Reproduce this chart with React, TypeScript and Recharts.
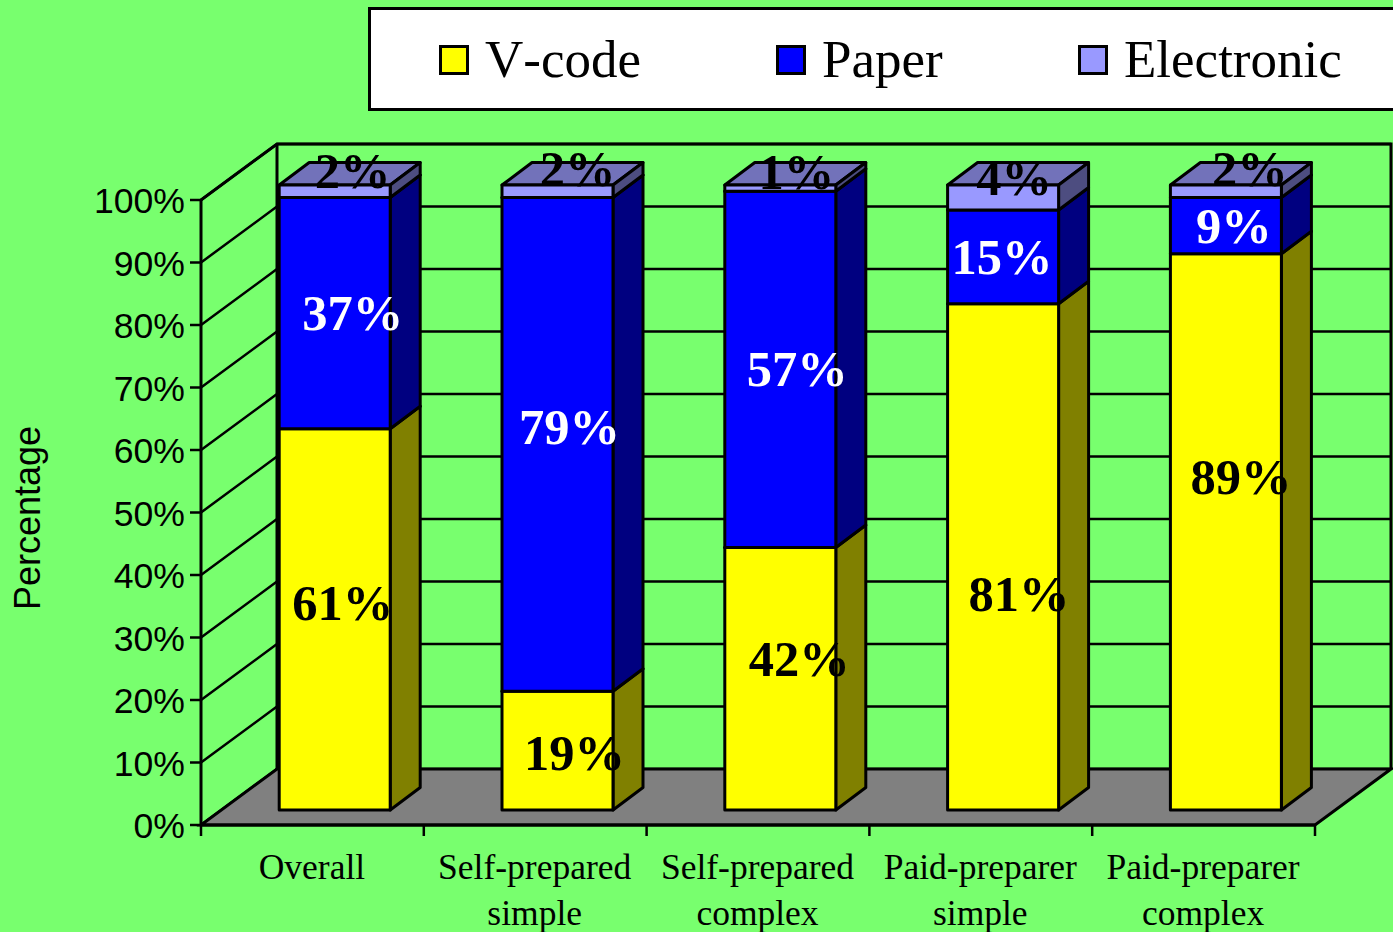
import {
  BarChart,
  Bar,
  XAxis,
  YAxis,
  CartesianGrid,
  Legend,
  LabelList,
  ReferenceArea,
} from "recharts";

const categories = [
  "Overall",
  "Self-prepared simple",
  "Self-prepared complex",
  "Paid-preparer simple",
  "Paid-preparer complex",
];
const vcode = [61, 19, 42, 81, 89];
const paper = [37, 79, 57, 15, 9];
const electronic = [2, 2, 1, 4, 2];
const yTicks = [0, 10, 20, 30, 40, 50, 60, 70, 80, 90, 100];

const chartData = categories.map((name, i) => ({
  name,
  vcode: vcode[i],
  paper: paper[i],
  electronic: electronic[i],
}));

// labels were hand placed in the original, so each one gets a nudge from its face centre
const vcodeNudge = [[8, -16], [17, 2], [19, -20], [16, 37], [15, -55]];
const paperNudge = [[18, 0], [12, -17], [17, 0], [-1, 0], [8, 0]];
const electronicNudge = [[18, -20], [20, -22], [16, -16], [11, -20], [24, -22]];

const WIDTH = 1393;
const HEIGHT = 932;
const BG = "#78ff6e";
const SERIF = "'Liberation Serif', serif";
const SANS = "'Liberation Sans', sans-serif";

// 3D offsets: wall depth, and how far the bar front sits in from the axis plane
const WALL_DX = 76;
const WALL_DY = -56;
const BAR_DX = 22.5;
const BAR_DY = -15;
const DEPTH_X = 30;
const DEPTH_Y = -22.5;

const Box3D = ({ x, y, width, height, fill, side, top }: any) => {
  const l = x + BAR_DX;
  const r = l + width;
  const t = y + BAR_DY;
  const b = t + height;
  const style = { stroke: "#000", strokeWidth: 3, strokeLinejoin: "round" as const };
  return (
    <g>
      <polygon
        points={`${l},${t} ${l + DEPTH_X},${t + DEPTH_Y} ${r + DEPTH_X},${t + DEPTH_Y} ${r},${t}`}
        fill={top}
        {...style}
      />
      <polygon
        points={`${r},${b} ${r + DEPTH_X},${b + DEPTH_Y} ${r + DEPTH_X},${t + DEPTH_Y} ${r},${t}`}
        fill={side}
        {...style}
      />
      <rect x={l} y={t} width={width} height={height} fill={fill} {...style} />
    </g>
  );
};

// the wall gridline: up the left wall, then across the back
const WallLine = ({ x1, y1, x2 }: any) => (
  <polyline
    points={`${x1},${y1} ${x1 + WALL_DX},${y1 + WALL_DY} ${x2 + WALL_DX},${y1 + WALL_DY}`}
    fill="none"
    stroke="#000"
    strokeWidth={2.5}
  />
);

const Walls = ({ x, y, width, height }: any) => {
  const b = y + height;
  const r = x + width;
  const step = width / categories.length;
  return (
    <g>
      <polygon
        points={`${x},${b} ${x + WALL_DX},${b + WALL_DY} ${r + WALL_DX},${b + WALL_DY} ${r},${b}`}
        fill="#808080"
        stroke="#000"
        strokeWidth={3}
      />
      <polyline
        points={`${x},${y} ${x + WALL_DX},${y + WALL_DY} ${r + WALL_DX},${y + WALL_DY} ${r + WALL_DX},${b + WALL_DY}`}
        fill="none"
        stroke="#000"
        strokeWidth={3}
      />
      <line
        x1={x + WALL_DX}
        y1={y + WALL_DY}
        x2={x + WALL_DX}
        y2={b + WALL_DY}
        stroke="#000"
        strokeWidth={3}
      />
      {/* ticks sit between the categories, not under them */}
      {[0, 1, 2, 3, 4, 5].map((i) => (
        <line
          key={i}
          x1={x + step * i}
          y1={b}
          x2={x + step * i}
          y2={b + 11}
          stroke="#000"
          strokeWidth={2.5}
        />
      ))}
    </g>
  );
};

const CategoryTick = ({ x, payload }: any) => {
  const lines = payload.value.split(" ");
  return (
    <text x={x} textAnchor="middle" fontFamily={SERIF} fontSize={35.5} fill="#000">
      {lines.map((line: string, i: number) => (
        <tspan key={line} x={x - 0.5} y={879 + i * 46}>
          {line}
        </tspan>
      ))}
    </text>
  );
};

const PercentTick = ({ x, y, payload }: any) => (
  <text
    x={x}
    y={y + 1}
    textAnchor="end"
    dominantBaseline="central"
    fontFamily={SANS}
    fontSize={35.6}
    fill="#000"
  >
    {payload.value}%
  </text>
);

const makeLabel =
  (nudge: number[][], color: string) =>
  ({ x, y, width, height, value, index }: any) => (
    <text
      x={x + BAR_DX + width / 2 + nudge[index][0]}
      y={y + BAR_DY + height / 2 + nudge[index][1]}
      textAnchor="middle"
      dominantBaseline="central"
      fontFamily={SERIF}
      fontWeight="bold"
      fontSize={50.5}
      fill={color}
    >
      {value}%
    </text>
  );

const legendLefts = [71, 408, 710];

const LegendBox = ({ payload }: any) => (
  <div
    style={{
      position: "relative",
      boxSizing: "border-box",
      width: 1040,
      height: 104,
      background: "#fff",
      border: "3px solid #000",
    }}
  >
    {(payload || []).map((item: any, i: number) => (
      <div key={item.value}>
        <div
          style={{
            position: "absolute",
            boxSizing: "border-box",
            left: legendLefts[i] - 3,
            top: 35,
            width: 30,
            height: 30,
            background: item.color,
            border: "3px solid #000",
          }}
        />
        <div
          style={{
            position: "absolute",
            left: legendLefts[i] + 43,
            top: 19,
            fontFamily: SERIF,
            fontSize: 53,
            lineHeight: "60px",
            fontKerning: "none",
            whiteSpace: "nowrap",
            color: "#000",
          }}
        >
          {item.value}
        </div>
      </div>
    ))}
  </div>
);

const YTitle = () => (
  <text
    transform="translate(27,518) rotate(-90)"
    textAnchor="middle"
    dominantBaseline="central"
    fontFamily={SANS}
    fontSize={36}
    fill="#000"
  >
    Percentage
  </text>
);

export default function App() {
  return (
    <div
      style={{
        position: "absolute",
        left: 0,
        top: 0,
        width: WIDTH,
        height: HEIGHT,
        overflow: "hidden",
        background: BG,
      }}
    >
      <BarChart
        width={WIDTH}
        height={HEIGHT}
        data={chartData}
        margin={{ top: 200, right: 78, bottom: 0, left: 0 }}
        barCategoryGap="25%"
      >
        <CartesianGrid
          vertical={false}
          horizontal={(props: any) => <WallLine key={props.key} {...props} />}
        />
        <XAxis
          dataKey="name"
          height={107}
          interval={0}
          tick={<CategoryTick />}
          tickLine={false}
          axisLine={{ stroke: "#000", strokeWidth: 3 }}
        />
        <YAxis
          width={201}
          domain={[0, 100]}
          ticks={yTicks}
          interval={0}
          tickSize={11}
          tickMargin={5}
          tick={<PercentTick />}
          axisLine={{ stroke: "#000", strokeWidth: 3 }}
          tickLine={{ stroke: "#000", strokeWidth: 2.5 }}
          label={<YTitle />}
        />
        <ReferenceArea y1={0} y2={100} shape={<Walls />} fill="none" stroke="none" />
        <Legend
          layout="horizontal"
          verticalAlign="middle"
          itemSorter={null}
          content={<LegendBox />}
          wrapperStyle={{ left: 368, top: 7, width: 1040, height: 104 }}
        />
        <Bar
          dataKey="vcode"
          name="V-code"
          stackId="a"
          fill="#ffff00"
          isAnimationActive={false}
          shape={<Box3D side="#808000" top="#808000" />}
        >
          <LabelList dataKey="vcode" content={makeLabel(vcodeNudge, "#000")} />
        </Bar>
        <Bar
          dataKey="paper"
          name="Paper"
          stackId="a"
          fill="#0000ff"
          isAnimationActive={false}
          shape={<Box3D side="#000080" top="#000080" />}
        >
          <LabelList dataKey="paper" content={makeLabel(paperNudge, "#fff")} />
        </Bar>
        <Bar
          dataKey="electronic"
          name="Electronic"
          stackId="a"
          fill="#9999ff"
          isAnimationActive={false}
          shape={<Box3D side="#4d4d80" top="#7272ba" />}
        >
          <LabelList dataKey="electronic" content={makeLabel(electronicNudge, "#000")} />
        </Bar>
      </BarChart>
    </div>
  );
}
